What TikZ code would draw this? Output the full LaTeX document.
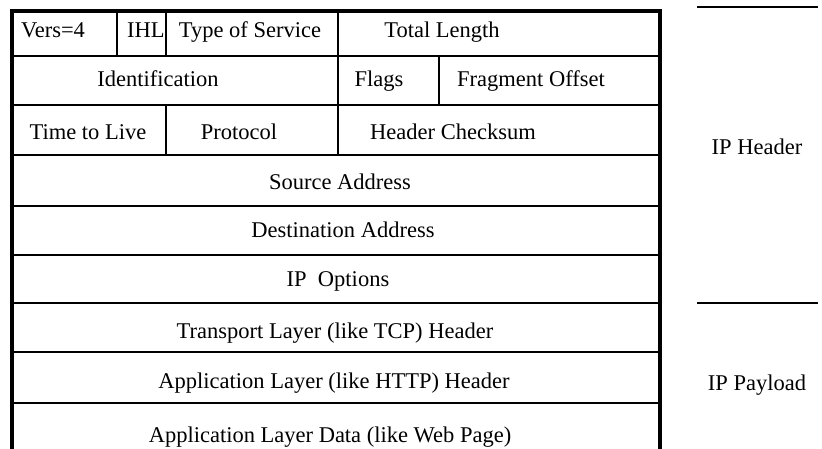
\documentclass[tikz,border=0pt]{standalone}
\usepackage{fontspec}
\setmainfont{Liberation Serif}
\begin{document}
\begin{tikzpicture}[x=1pt,y=-1pt,
  frame/.style={line width=4pt},
  rule/.style={line width=2pt},
  side/.style={line width=1.8pt},
  fld/.style={anchor=base,inner sep=0pt,font=\fontsize{22.5}{27}\selectfont}]
\useasboundingbox[fill=white] (0,0) rectangle (822,449);

% row separators
\foreach \y in {56,105,155,206,255,303,352,403}
  \draw[rule] (12,\y) -- (660,\y);
% column separators
\draw[rule] (117,11) -- (117,56);
\draw[rule] (166,11) -- (166,56);
\draw[rule] (338,11) -- (338,56);
\draw[rule] (338,56) -- (338,105);
\draw[rule] (439,56) -- (439,105);
\draw[rule] (166,105) -- (166,155);
\draw[rule] (338,105) -- (338,155);
% outer frame, open at the bottom
\draw[frame] (12,449) -- (12,11) -- (660,11) -- (660,449);

% fields
\node[fld] (vers)  at (53,38)  {Vers=4};
\node[fld,anchor=base west] (ihl) at (127,38) {IHL};
\node[fld] (tos)   at (250,38) {Type of Service};
\node[fld] (tlen)  at (442,38) {Total Length};
\node[fld] (ident) at (158,87) {Identification};
\node[fld] (flags) at (379,87) {Flags};
\node[fld] (frag)  at (531,87) {Fragment Offset};
\node[fld] (ttl)   at (88,140) {Time to Live};
\node[fld] (proto) at (239,140) {Protocol};
\node[fld] (csum)  at (453,140) {Header Checksum};
\node[fld] (src)   at (340,190) {Source Address};
\node[fld] (dst)   at (343,238) {Destination Address};
\node[fld] (opts)  at (338,287) {IP\ \ Options};
\node[fld] (tcp)   at (335,338) {Transport Layer (like TCP) Header};
\node[fld] (http)  at (334,388) {Application Layer (like HTTP) Header};
\node[fld] (data)  at (330,442) {Application Layer Data (like Web Page)};

% side brackets
\coordinate (t1) at (697,7);   \coordinate (t2) at (818,7);
\coordinate (m1) at (697,303); \coordinate (m2) at (818,303);
\draw[side] (t1) -- (t2);
\draw[side] (m1) -- (m2);
\node[fld] (iphdr) at (757,155) {IP Header};
\node[fld] (ippay) at (757,390) {IP Payload};
\end{tikzpicture}
\end{document}
